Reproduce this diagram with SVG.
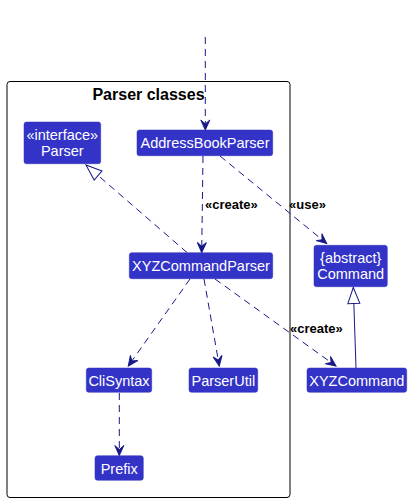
<svg xmlns="http://www.w3.org/2000/svg" width="413" height="503" viewBox="0 0 413 503">
<style>
.node rect{fill:#3333C8;stroke:#2e2eb8;stroke-width:0.5}
.node text{fill:#ffffff;font-family:"Liberation Sans",Arial,sans-serif;font-size:14.5px;text-anchor:middle}
.dep{fill:none;stroke:#181888;stroke-width:1;stroke-dasharray:7,5}
.solid{fill:none;stroke:#181888;stroke-width:1}
.lbl{font-family:"Liberation Sans",Arial,sans-serif;font-size:13px;font-weight:bold;fill:#000}
</style>
<defs>
<marker id="dep" viewBox="-11 -6 12 12" refX="0" refY="0" markerWidth="12" markerHeight="12" markerUnits="userSpaceOnUse" orient="auto">
<path d="M0,0 L-10,-4.5 L-6,0 L-10,4.5 Z" fill="#181888" stroke="#181888" stroke-width="1"/>
</marker>
<marker id="tri" viewBox="-17 -8 18 16" refX="0" refY="0" markerWidth="18" markerHeight="16" markerUnits="userSpaceOnUse" orient="auto">
<path d="M0,0 L-16,-6 L-16,6 Z" fill="#ffffff" stroke="#181888" stroke-width="1"/>
</marker>
</defs>
<g id="package">
<rect x="7" y="81.5" width="283" height="416" rx="3" fill="none" stroke="#000" stroke-width="1"/>
<text x="148.5" y="100" font-family="'Liberation Sans',Arial,sans-serif" font-size="16" font-weight="bold" text-anchor="middle">Parser classes</text>
</g>
<g id="connectors">
<path class="dep" d="M205.3,37 L205.3,130" marker-end="url(#dep)"/>
<path class="dep" d="M203,156 L201.7,252.5" marker-end="url(#dep)"/>
<path class="dep" d="M220,156 L326.7,243.5" marker-end="url(#dep)"/>
<path class="dep" d="M187,252.5 L86,165" marker-end="url(#tri)"/>
<path class="dep" d="M190,279 L128.3,366" marker-end="url(#dep)"/>
<path class="dep" d="M204,279 L219.3,366" marker-end="url(#dep)"/>
<path class="dep" d="M215,279 L336,366" marker-end="url(#dep)"/>
<path class="dep" d="M119.3,393 L119.3,455.5" marker-end="url(#dep)"/>
<path class="solid" d="M356,368 L353.3,287.5" marker-end="url(#tri)"/>
<text class="lbl" x="205" y="209">«create»</text>
<text class="lbl" x="289" y="209">«use»</text>
<text class="lbl" x="290" y="333">«create»</text>
</g>
<g id="Parser" class="node">
<rect x="24" y="122" width="76.7" height="41.7" rx="2.5"/>
<text x="62.3" y="140">«interface»</text>
<text x="62.3" y="156">Parser</text>
</g>
<g id="AddressBookParser" class="node">
<rect x="137" y="130" width="135.7" height="25.7" rx="2.5"/>
<text x="205" y="148">AddressBookParser</text>
</g>
<g id="XYZCommandParser" class="node">
<rect x="129.3" y="252.7" width="143.4" height="26" rx="2.5"/>
<text x="201" y="271">XYZCommandParser</text>
</g>
<g id="Command" class="node">
<rect x="314" y="245.3" width="73.3" height="41.4" rx="2.5"/>
<text x="350.7" y="263">{abstract}</text>
<text x="350.7" y="279">Command</text>
</g>
<g id="CliSyntax" class="node">
<rect x="86.3" y="368" width="65.4" height="24.3" rx="2.5"/>
<text x="119" y="386">CliSyntax</text>
</g>
<g id="ParserUtil" class="node">
<rect x="189" y="368" width="68.7" height="24.3" rx="2.5"/>
<text x="223.3" y="386">ParserUtil</text>
</g>
<g id="XYZCommand" class="node">
<rect x="307" y="368" width="99.7" height="24.3" rx="2.5"/>
<text x="356.8" y="386">XYZCommand</text>
</g>
<g id="Prefix" class="node">
<rect x="95" y="455.7" width="48.3" height="24.6" rx="2.5"/>
<text x="119.2" y="474">Prefix</text>
</g>
</svg>
